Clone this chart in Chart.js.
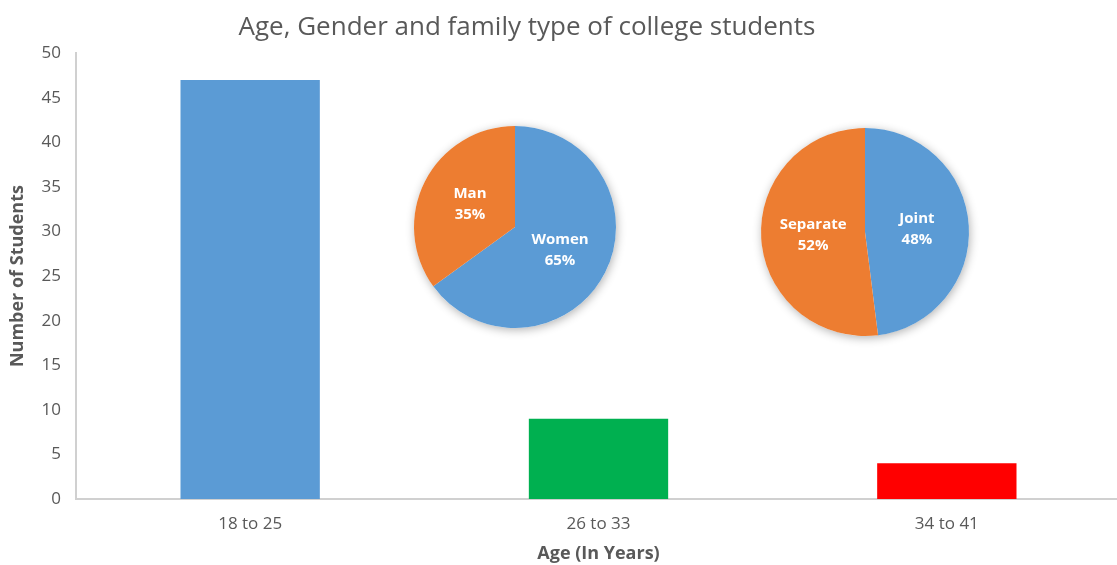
<!DOCTYPE html>
<html>
<head>
<meta charset="utf-8">
<script src="https://cdn.jsdelivr.net/npm/chart.js@4.4.1/dist/chart.umd.min.js"></script>
<style>
html, body { margin: 0; padding: 0; background: #fff; overflow: hidden; }
#wrap { position: relative; width: 1117px; height: 565px; overflow: hidden; }
#barChart { position: absolute; left: -67px; top: 0; }
.pie { position: absolute; }
#genderPie { left: 395px; top: 107px; }
#familyPie { left: 741px; top: 108px; }
</style>
</head>
<body>
<div id="wrap">
  <canvas id="barChart" width="1188" height="565"></canvas>
  <canvas id="genderPie" class="pie" width="240" height="240"></canvas>
  <canvas id="familyPie" class="pie" width="248" height="248"></canvas>
</div>
<script>
// data
const ageGroups = ['18 to 25', '26 to 33', '34 to 41'];
const studentCounts = [47, 9, 4];
const ageColors = ['#5b9bd5', '#00b050', '#ff0000'];

const genderLabels = ['Women', 'Man'];
const genderShares = [65, 35];

const familyLabels = ['Joint', 'Separate'];
const familyShares = [48, 52];

const pieColors = ['#5b9bd5', '#ed7d31'];

const yMin = 0;
const yMax = 50;
const yStep = 5;

Chart.defaults.font.family = "'Open Sans', sans-serif";
Chart.defaults.color = '#595959';

// bar chart (canvas is shifted left so the title centres like the original)
new Chart(document.getElementById('barChart'), {
    type: 'bar',
    data: {
        labels: ageGroups,
        datasets: [{
            data: studentCounts,
            backgroundColor: ageColors,
            categoryPercentage: 1,
            barPercentage: 0.4
        }]
    },
    options: {
        responsive: false,
        animation: false,
        layout: { padding: 0 },
        plugins: {
            legend: { display: false },
            tooltip: { enabled: false },
            title: {
                display: true,
                text: 'Age, Gender and family type of college students',
                font: { size: 26, weight: 'normal' },
                padding: { top: 12, bottom: 10 }
            }
        },
        scales: {
            x: {
                grid: { display: false, drawTicks: false },
                border: { color: '#d0d0d0', width: 2 },
                ticks: { font: { size: 17 }, padding: 15 },
                title: {
                    display: true,
                    text: 'Age (In Years)',
                    font: { size: 18, weight: 'bold' },
                    padding: { top: 0, bottom: 0 }
                },
                afterFit(scale) { scale.height = 66; }
            },
            y: {
                min: yMin,
                max: yMax,
                ticks: { stepSize: yStep, font: { size: 17 }, padding: 15 },
                grid: { display: false, drawTicks: false },
                border: { color: '#d0d0d0', width: 2 },
                title: {
                    display: true,
                    text: 'Number of Students',
                    font: { size: 18, weight: 'bold' },
                    padding: { top: 74, bottom: 0 }
                },
                afterFit(scale) { scale.width = 143; }
            }
        }
    }
});

// soft shadow under the pie
const pieShadow = {
    id: 'pieShadow',
    beforeDatasetsDraw(chart) {
        const arc = chart.getDatasetMeta(0).data[0];
        const ctx = chart.ctx;
        ctx.save();
        ctx.shadowColor = 'rgba(0,0,0,0.3)';
        ctx.shadowBlur = 10;
        ctx.shadowOffsetX = 1;
        ctx.shadowOffsetY = 2;
        ctx.fillStyle = '#fff';
        ctx.beginPath();
        ctx.arc(arc.x, arc.y, arc.outerRadius, 0, Math.PI * 2);
        ctx.fill();
        ctx.restore();
    }
};

// name + percent inside each slice
const sliceLabels = {
    id: 'sliceLabels',
    afterDatasetsDraw(chart) {
        const ctx = chart.ctx;
        const values = chart.data.datasets[0].data;
        chart.getDatasetMeta(0).data.forEach((arc, i) => {
            const p = arc.getCenterPoint();
            ctx.save();
            ctx.fillStyle = '#fff';
            ctx.font = "bold 15px 'Open Sans', sans-serif";
            ctx.textAlign = 'center';
            ctx.textBaseline = 'middle';
            ctx.fillText(chart.data.labels[i], p.x, p.y - 10.5);
            ctx.fillText(values[i] + '%', p.x, p.y + 10.5);
            ctx.restore();
        });
    }
};

function makePie(id, labels, values, pad) {
    new Chart(document.getElementById(id), {
        type: 'pie',
        data: {
            labels: labels,
            datasets: [{
                data: values,
                backgroundColor: pieColors,
                borderWidth: 0
            }]
        },
        options: {
            responsive: false,
            animation: false,
            layout: { padding: pad },
            plugins: {
                legend: { display: false },
                tooltip: { enabled: false }
            }
        },
        plugins: [pieShadow, sliceLabels]
    });
}

makePie('genderPie', genderLabels, genderShares, 19);
makePie('familyPie', familyLabels, familyShares, 20);
</script>
</body>
</html>
